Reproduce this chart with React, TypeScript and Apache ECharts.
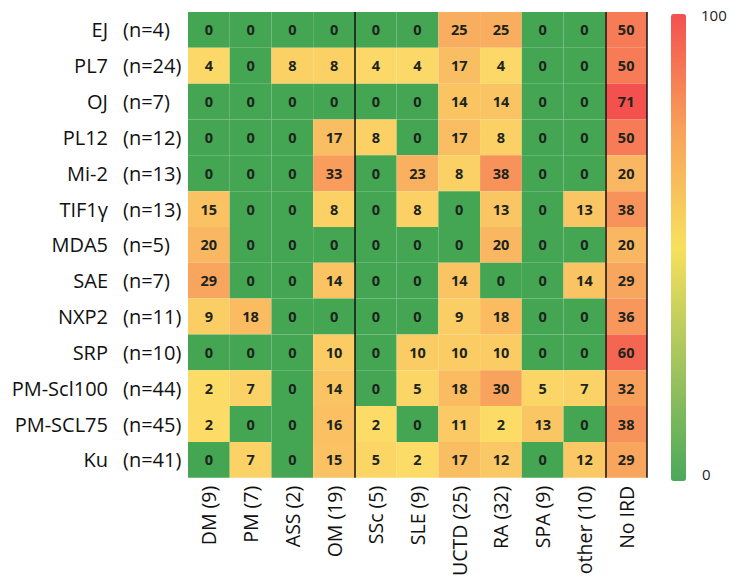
import React, { useEffect, useRef } from "react";
import * as echarts from "echarts";

const rowNames = ["EJ", "PL7", "OJ", "PL12", "Mi-2", "TIF1γ", "MDA5", "SAE", "NXP2", "SRP", "PM-Scl100", "PM-SCL75", "Ku"];
const rowCounts = ["(n=4)", "(n=24)", "(n=7)", "(n=12)", "(n=13)", "(n=13)", "(n=5)", "(n=7)", "(n=11)", "(n=10)", "(n=44)", "(n=45)", "(n=41)"];
const colNames = ["DM (9)", "PM (7)", "ASS (2)", "OM (19)", "SSc (5)", "SLE (9)", "UCTD (25)", "RA (32)", "SPA (9)", "other (10)", "No IRD"];
const values: number[][] = [
  [0, 0, 0, 0, 0, 0, 25, 25, 0, 0, 50],
  [4, 0, 8, 8, 4, 4, 17, 4, 0, 0, 50],
  [0, 0, 0, 0, 0, 0, 14, 14, 0, 0, 71],
  [0, 0, 0, 17, 8, 0, 17, 8, 0, 0, 50],
  [0, 0, 0, 33, 0, 23, 8, 38, 0, 0, 20],
  [15, 0, 0, 8, 0, 8, 0, 13, 0, 13, 38],
  [20, 0, 0, 0, 0, 0, 0, 20, 0, 0, 20],
  [29, 0, 0, 14, 0, 0, 14, 0, 0, 14, 29],
  [9, 18, 0, 0, 0, 0, 9, 18, 0, 0, 36],
  [0, 0, 0, 10, 0, 10, 10, 10, 0, 0, 60],
  [2, 7, 0, 14, 0, 5, 18, 30, 5, 7, 32],
  [2, 0, 0, 16, 2, 0, 11, 2, 13, 0, 38],
  [0, 7, 0, 15, 5, 2, 17, 12, 0, 12, 29],
];
const dividerAfter = [4, 10];
const scaleTicks = ["100", "0"];

const GREEN = [68, 165, 83];
const YELLOW = [252, 224, 104];
const RED = [243, 80, 78];

function cellColor(v: number, max: number): string {
  if (v <= 0) return `rgb(${GREEN.join(",")})`;
  const t = Math.min(1, v / max);
  const c = YELLOW.map((y, i) => Math.round(y + (RED[i] - y) * t));
  return `rgb(${c.join(",")})`;
}

export default function App() {
  const ref = useRef<HTMLDivElement>(null);
  useEffect(() => {
    if (!ref.current) return;
    const chart = echarts.init(ref.current, undefined, { renderer: "svg" });
    const max = Math.max(...values.flat());
    const data: number[][] = [];
    values.forEach((row, r) => row.forEach((v, c) => data.push([c, r, v])));
    const font = "'Open Sans', Lato, sans-serif";
    const yBase = {
      type: "category",
      inverse: true,
      position: "left",
      axisLine: { show: false },
      axisTick: { show: false },
      splitLine: { show: false },
    };
    chart.setOption({
      animation: false,
      grid: { left: 188, right: 85, top: 12, bottom: 98, containLabel: false },
      xAxis: {
        type: "category",
        data: colNames,
        z: 10,
        axisLine: { show: false },
        axisTick: { show: false },
        axisLabel: { rotate: 90, fontSize: 19.5, color: "#111", margin: 8, fontFamily: font, interval: 0 },
        splitLine: {
          show: true,
          interval: (i: number) => dividerAfter.includes(i),
          lineStyle: { color: "#111", width: 1.5 },
        },
      },
      yAxis: [
        {
          ...yBase,
          data: rowNames,
          axisLabel: { interval: 0, margin: 80, fontFamily: font, fontSize: 20, color: "#111", align: "right" },
        },
        {
          ...yBase,
          data: rowCounts,
          axisLabel: { interval: 0, margin: 65, fontFamily: font, fontSize: 20, color: "#111", align: "left" },
        },
      ],
      visualMap: {
        type: "continuous",
        min: 0,
        max: 100,
        orient: "vertical",
        left: 671,
        top: 14,
        padding: 0,
        itemWidth: 15,
        itemHeight: 467,
        calculable: false,
        seriesIndex: [],
        inRange: { color: ["#4aa95a", "#a3c45e", "#f7e05c", "#f8a25a", "#f4504f"] },
      },
      graphic: [
        { type: "text", left: 701, top: 7, style: { text: scaleTicks[0], fontSize: 15, fill: "#222", fontFamily: font } },
        { type: "text", left: 702, top: 466, style: { text: scaleTicks[1], fontSize: 15, fill: "#222", fontFamily: font } },
      ],
      series: [
        {
          type: "custom",
          data,
          xAxisIndex: 0,
          yAxisIndex: 0,
          encode: { x: 0, y: 1 },
          renderItem: (params: any, api: any) => {
            const c = api.value(0);
            const r = api.value(1);
            const v = api.value(2);
            const p = api.coord([c, r]);
            const s = api.size([1, 1]);
            return {
              type: "rect",
              shape: { x: p[0] - s[0] / 2, y: p[1] - s[1] / 2, width: s[0], height: s[1] },
              style: { fill: cellColor(v, max) },
              textContent: {
                style: {
                  text: String(v),
                  fontSize: 14.5,
                  fontWeight: "bold",
                  fill: "#1c241c",
                  fontFamily: font,
                },
              },
              textConfig: { position: "inside" },
            };
          },
        },
      ],
    });
    return () => chart.dispose();
  }, []);
  return <div ref={ref} style={{ width: 732, height: 579, position: "absolute", left: 0, top: 0 }} />;
}
